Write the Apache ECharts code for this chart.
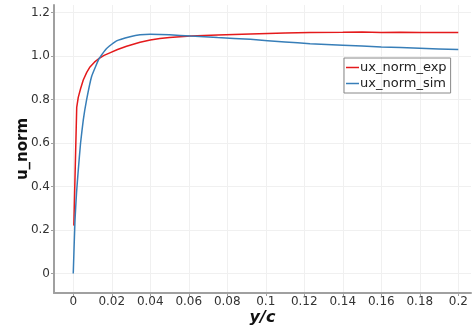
<!DOCTYPE html>
<html><head><meta charset="utf-8">
<script src="https://cdn.jsdelivr.net/npm/echarts@6/dist/echarts.min.js"></script>
<style>html,body{margin:0;padding:0;background:#fff}#c{width:472px;height:331px}</style>
</head><body><div id="c"></div>
<script>
const xTicks = [0, 0.02, 0.04, 0.06, 0.08, 0.1, 0.12, 0.14, 0.16, 0.18, 0.2];
const yTicks = [0, 0.2, 0.4, 0.6, 0.8, 1.0, 1.2];
const yTickLabels = ['0', '0.2', '0.4', '0.6', '0.8', '1.0', '1.2'];
const expX = [0.0003, 0.0018, 0.0026, 0.0038, 0.0052, 0.007, 0.0087, 0.011, 0.0135, 0.016, 0.019, 0.023, 0.0277, 0.0347, 0.04, 0.045, 0.05, 0.061, 0.075, 0.092, 0.11, 0.123, 0.14, 0.15, 0.16, 0.17, 0.18, 0.2];
const expY = [0.22, 0.764, 0.81, 0.85, 0.89, 0.925, 0.95, 0.972, 0.99, 1.003, 1.015, 1.03, 1.045, 1.064, 1.074, 1.081, 1.085, 1.092, 1.097, 1.102, 1.106, 1.109, 1.11, 1.111, 1.109, 1.11, 1.108, 1.108];
const simX = [0, 0.0009, 0.0017, 0.0026, 0.0038, 0.0052, 0.0069, 0.0095, 0.0135, 0.0173, 0.0225, 0.0295, 0.0347, 0.04, 0.05, 0.061, 0.075, 0.092, 0.11, 0.123, 0.14, 0.16, 0.18, 0.2];
const simY = [0, 0.244, 0.37, 0.475, 0.6, 0.705, 0.797, 0.905, 0.989, 1.035, 1.07, 1.089, 1.098, 1.1, 1.098, 1.092, 1.085, 1.077, 1.065, 1.057, 1.05, 1.042, 1.036, 1.03];
const seriesNames = ['ux_norm_exp', 'ux_norm_sim'];

const font = 'DejaVu Sans, sans-serif';
const chart = echarts.init(document.getElementById('c'), null, {renderer: 'canvas'});
const zip = (xs, ys) => xs.map((x, i) => [x, ys[i]]);
chart.setOption({
  animation: false,
  grid: {left: 54, right: 1, top: 5, bottom: 38, containLabel: false, outerBoundsMode: 'none'},
  legend: {
    left: 344, top: 58, orient: 'vertical',
    data: seriesNames,
    icon: 'path://M0,0 L13,0 L13,1.5 L0,1.5 Z',
    borderColor: '#888', borderWidth: 1, borderRadius: 0,
    padding: [3, 4, 3, 2], itemGap: 3, itemWidth: 13, itemHeight: 1.5,
    textStyle: {fontFamily: font, fontSize: 13, color: '#222', padding: [0, 0, 0, -4]}
  },
  xAxis: {
    type: 'value', min: -0.01, max: 0.2066,
    name: 'y/c', nameLocation: 'middle', nameGap: 17, nameMoveOverlap: false,
    nameTextStyle: {fontFamily: font, fontSize: 16, fontWeight: 'bold', fontStyle: 'italic', color: '#111'},
    axisLine: {show: true, onZero: false, lineStyle: {color: '#a0a0a0', width: 2}},
    axisTick: {show: true, length: 3, customValues: xTicks, lineStyle: {color: '#a0a0a0'}},
    axisLabel: {customValues: xTicks, fontFamily: font, fontSize: 12, color: '#333', margin: 3},
    splitLine: {show: true, lineStyle: {color: '#f0f0f0', width: 1}}
  },
  yAxis: {
    type: 'value', min: -0.09, max: 1.235,
    name: 'u_norm', nameLocation: 'middle', nameGap: 23, nameMoveOverlap: false,
    nameTextStyle: {fontFamily: font, fontSize: 15, fontWeight: 'bold', color: '#111'},
    axisLine: {show: true, onZero: false, lineStyle: {color: '#a0a0a0', width: 2}},
    axisTick: {show: true, length: 3, customValues: yTicks, lineStyle: {color: '#a0a0a0'}},
    axisLabel: {customValues: yTicks, fontFamily: font, fontSize: 12, color: '#333', margin: 4,
      formatter: v => { const i = yTicks.findIndex(t => Math.abs(t - v) < 1e-9); return i >= 0 ? yTickLabels[i] : ''; }},
    splitLine: {show: true, lineStyle: {color: '#f0f0f0', width: 1}}
  },
  series: [
    {name: seriesNames[0], type: 'line', data: zip(expX, expY), showSymbol: false, symbol: 'none', smooth: false,
     lineStyle: {color: '#e41a1c', width: 1.5}, itemStyle: {color: '#e41a1c'}},
    {name: seriesNames[1], type: 'line', data: zip(simX, simY), showSymbol: false, symbol: 'none', smooth: 0.15,
     lineStyle: {color: '#377eb8', width: 1.5}, itemStyle: {color: '#377eb8'}}
  ]
});
</script></body></html>
